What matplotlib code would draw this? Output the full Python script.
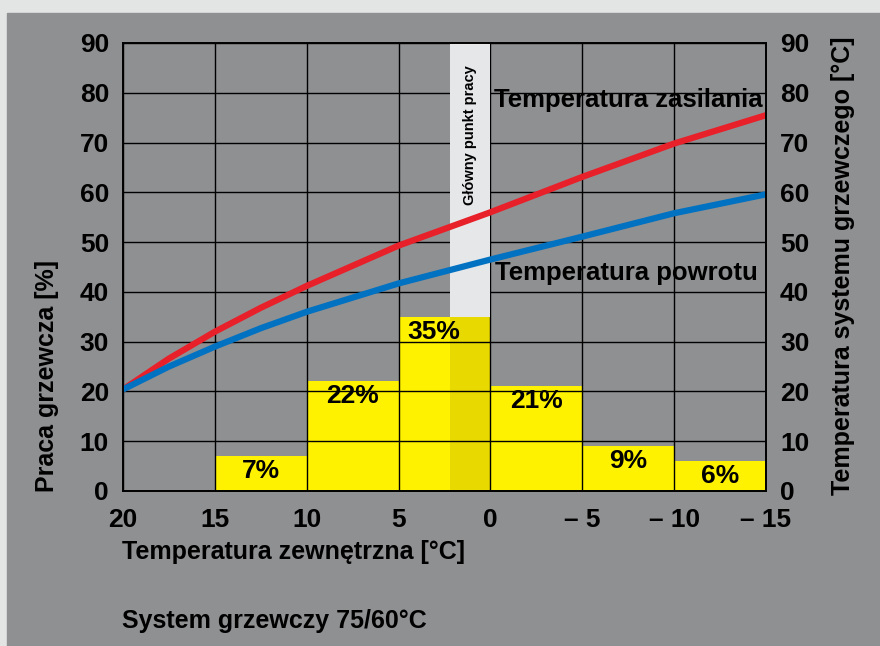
import matplotlib.pyplot as plt
from matplotlib.patches import Rectangle

plt.rcParams['font.family'] = ['Liberation Sans', 'DejaVu Sans']
plt.rcParams['font.weight'] = 'bold'

# outdoor temperature bins (left edge, right edge) and share of heating work [%]
bin_left = [15, 10, 5, 0, -5, -10]
bin_right = [10, 5, 0, -5, -10, -15]
work_share = [7, 22, 35, 21, 9, 6]

# supply / return temperature curves of the 75/60 system
t_out = [20, 17.5, 15, 12.5, 10, 5, 0, -5, -10, -15]
t_supply = [20.4, 26.6, 32.0, 36.8, 41.2, 49.3, 56.0, 63.1, 69.8, 75.5]
t_return = [20.4, 25.0, 29.0, 32.7, 36.0, 41.7, 46.5, 51.1, 55.8, 59.6]

x_ticks = [20, 15, 10, 5, 0, -5, -10, -15]
x_ticklabels = ['20', '15', '10', '5', '0', '\u2013 5', '\u2013 10', '\u2013 15']
y_ticks = [0, 10, 20, 30, 40, 50, 60, 70, 80, 90]

# main operating point band
band_from, band_to = 2.2, 0

PANEL = '#8f9092'
YELLOW = '#fff200'
DARK_YELLOW = '#e8d900'
BAND = '#e6e7e9'

W, H = 880, 646
fig = plt.figure(figsize=(W / 100, H / 100), dpi=100, facecolor='#e3e4e4')
fig.patches.append(Rectangle((7 / W, 0), 1, (H - 13) / H,
                             transform=fig.transFigure, color=PANEL, zorder=-10))

ax = fig.add_axes([123 / W, (H - 491) / H, (766 - 123) / W, (491 - 43) / H])
ax.set_facecolor(PANEL)
ax.set_xlim(20, -15)
ax.set_ylim(0, 90)

widths = [r - l for l, r in zip(bin_left, bin_right)]
ax.bar(bin_left, work_share, width=widths, align='edge', color=YELLOW, zorder=1)

# band: darker inside the bar, light grey above it (covers the grid)
peak = work_share[bin_left.index(5)]
ax.add_patch(Rectangle((band_from, 0), band_to - band_from, peak,
                       color=DARK_YELLOW, zorder=1.5, lw=0))
ax.add_patch(Rectangle((band_from, peak), band_to - band_from, 90 - peak,
                       color=BAND, zorder=2.5, lw=0))

ax.set_xticks(x_ticks)
ax.set_xticklabels(x_ticklabels)
ax.set_yticks(y_ticks)
ax.grid(True, color='black', lw=1.0)
for gl in ax.get_xgridlines() + ax.get_ygridlines():
    gl.set_zorder(2)
ax.tick_params(length=0, labelsize=19)
ax.tick_params(axis='x', pad=12)
ax.tick_params(axis='y', pad=10)
for s in ax.spines.values():
    s.set_linewidth(1.4)
    s.set_zorder(4)

ax.plot(t_out, t_supply, color='#e8202a', lw=4.5, zorder=3, solid_capstyle='butt')
ax.plot(t_out, t_return, color='#0072c1', lw=4.5, zorder=3, solid_capstyle='butt')

for l, r, v in zip(bin_left, bin_right, work_share):
    xc = (l + r) / 2
    if l == 5:
        xc = 3.1
    ax.annotate(f'{v}%', (xc, v), xytext=(0, -2), textcoords='offset points',
                ha='center', va='top', fontsize=19, fontweight='bold', zorder=5)

ax.text(1.1, 85.5, 'Główny punkt pracy', rotation=90, ha='center', va='top',
        fontsize=10.5, fontweight='bold', zorder=5)
ax.text(-14.8, 78.5, 'Temperatura zasilania', ha='right', va='center',
        fontsize=18.5, fontweight='bold', zorder=5)
ax.text(-0.27, 43.8, 'Temperatura powrotu', ha='left', va='center',
        fontsize=18.5, fontweight='bold', zorder=5)

ax2 = ax.twinx()
ax2.set_ylim(0, 90)
ax2.set_yticks(y_ticks)
ax2.tick_params(length=0, labelsize=19, pad=10)
for s in ax2.spines.values():
    s.set_visible(False)

# axis titles placed in figure pixels
fig.text(47 / W, 1 - 492 / H, 'Praca grzewcza [%]', rotation=90, ha='center',
         va='bottom', fontsize=18, fontweight='bold')
fig.text(843 / W, 1 - 266 / H, 'Temperatura systemu grzewczego [°C]', rotation=90,
         ha='center', va='center', fontsize=18, fontweight='bold')
fig.text(122 / W, 1 - 552 / H, 'Temperatura zewnętrzna [°C]', ha='left',
         va='center', fontsize=18, fontweight='bold')
fig.text(122 / W, 1 - 621 / H, 'System grzewczy 75/60°C', ha='left',
         va='center', fontsize=18, fontweight='bold')

fig.savefig('out.png', dpi=100, facecolor=fig.get_facecolor())
